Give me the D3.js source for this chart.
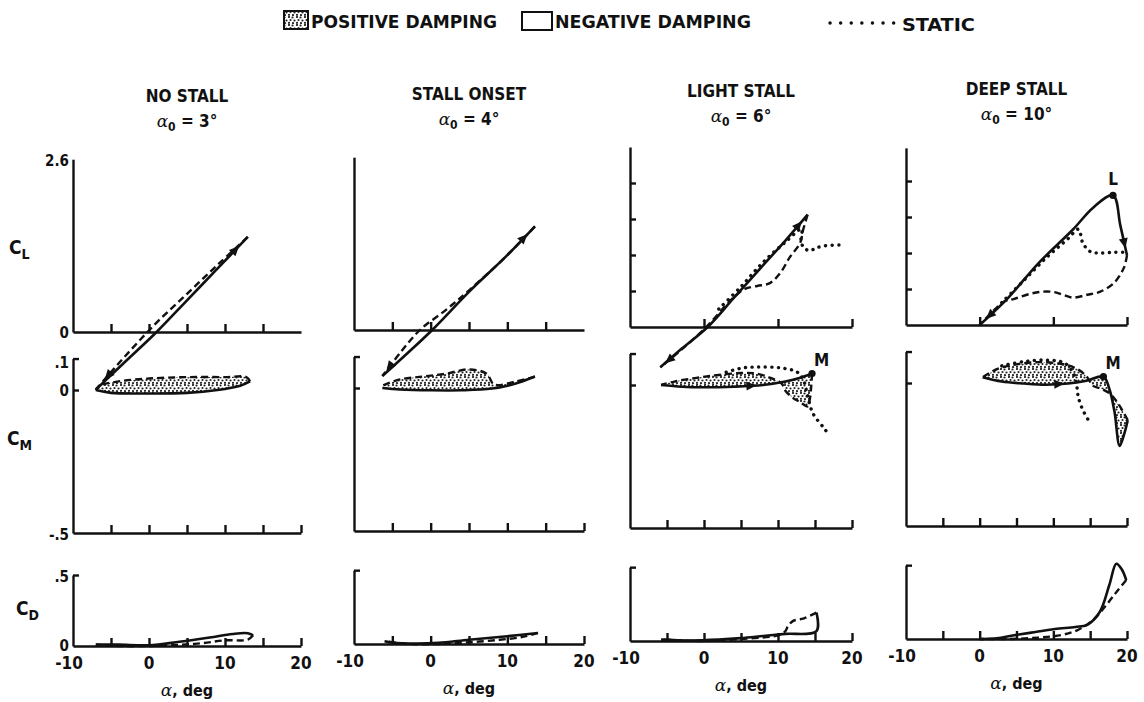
<!DOCTYPE html>
<html>
<head>
<meta charset="utf-8">
<script src="https://cdnjs.cloudflare.com/ajax/libs/d3/7.8.5/d3.min.js"></script>
<style>
	body { margin: 0; background: #fff; }
	svg text { font-family: "Liberation Sans Narrow", "DejaVu Sans Condensed", "Liberation Sans", sans-serif; font-weight: bold; fill: #111; }
	.greek { font-family: "DejaVu Serif", "Liberation Serif", serif; font-style: italic; font-weight: normal; }
</style>
</head>
<body>
<svg id="chart" width="1144" height="702"></svg>
<script>
// --- data (alpha in deg, coefficient value) ---
var columnTitles = ["NO STALL", "STALL ONSET", "LIGHT STALL", "DEEP STALL"];
var meanAngles = [3, 4, 6, 10];
var alphaTickLabels = [-10, 0, 10, 20];
var clTopLabel = "2.6";

// lift, upstroke (solid) and downstroke (dashed)
var clUp = [
	[[-7,-0.8],[-3,-0.4],[1,0],[5,0.44],[9,0.88],[13,1.32]],
	[[-6.3,-0.64],[-3,-0.32],[0.2,0],[5,0.53],[10,1.04],[13.6,1.44]],
	[[-5.9,-0.56],[-3,-0.3],[0.5,0],[4,0.4],[8,0.86],[11,1.2],[14,1.56]],
	[[0,0],[3.7,0.36],[8,0.86],[12.7,1.33],[15.4,1.63],[18.1,1.8],[19.1,1.38],[20,0.97]]
];
var clDown = [
	[[13,1.32],[9,0.93],[5,0.53],[1,0.13],[-3,-0.32],[-7,-0.8]],
	[[13.6,1.44],[10,1.04],[5,0.55],[2,0.28],[-1.4,0],[-4,-0.32],[-6.3,-0.64]],
	[[14,1.56],[13.4,1.35],[13,1.17],[11.6,0.97],[10.3,0.75],[8.9,0.61],[7.2,0.57],[5.8,0.54],[4.9,0.49],[3.5,0.36],[0.3,0],[-3,-0.31],[-5.9,-0.56]],
	[[20,0.97],[19.6,0.8],[18.2,0.58],[16.3,0.46],[14.6,0.42],[12.7,0.38],[11.3,0.42],[9.9,0.46],[8.2,0.46],[6.4,0.42],[4.6,0.36],[3.4,0.33],[0,0]]
];
var clStatic = [
	[],
	[],
	[[2,0.25],[5,0.56],[8,0.9],[11,1.18],[13.2,1.36],[13.1,1.2],[13.5,1.1],[14.3,1.06],[15.2,1.1],[16.5,1.13],[18.6,1.14]],
	[[3,0.31],[6,0.62],[9,0.93],[12,1.2],[13.4,1.33],[14,1.14],[15,1.02],[16.3,1],[18.1,1.01],[19.6,1.01]]
];

// pitching moment
var cmUp = [
	[[-7,0],[-5,-0.01],[0,-0.012],[5,-0.01],[9,0],[12,0.015],[13.3,0.03]],
	[[-6.3,0],[-4,-0.005],[0,-0.008],[4,-0.008],[8,-0.002],[11,0.015],[13.6,0.04]],
	[[-5.8,0],[-3,-0.006],[0,-0.008],[4,-0.006],[8,0],[11,0.012],[13,0.025],[14.6,0.04]],
	[[0.4,0.02],[3,0.005],[6,-0.002],[9,-0.006],[12,-0.002],[14.5,0.008],[16.8,0.022],[17.6,-0.02],[18.3,-0.1],[19,-0.22],[19.6,-0.18],[20.1,-0.13]]
];
var cmDown = [
	[[13.3,0.03],[12.8,0.045],[10,0.045],[5,0.045],[0,0.04],[-4,0.03],[-6.5,0.015],[-7,0]],
	[[13.6,0.04],[11,0.022],[8.3,0.012],[7.3,0.05],[5,0.065],[2,0.05],[-1,0.04],[-4,0.03],[-6.3,0.008]],
	[[14.6,0.04],[14.5,0],[14.3,-0.05],[14,-0.075],[13,-0.06],[12,-0.045],[11,-0.02],[10.5,0.005],[9,0.025],[7,0.04],[5,0.042],[2,0.035],[-1,0.025],[-4,0.012],[-5.8,0]],
	[[20.1,-0.13],[19,-0.08],[17.8,-0.04],[16.5,-0.02],[15.4,-0.01],[14.6,0.02],[13.5,0.045],[11.8,0.063],[8.2,0.073],[5,0.065],[2.5,0.05],[0.4,0.02]]
];
var cmStatic = [
	[],
	[],
	[[3,0.045],[5.3,0.06],[7.6,0.063],[10.3,0.06],[12.6,0.045],[13.4,0.02],[13.9,-0.028],[14.7,-0.098],[16.1,-0.147],[16.6,-0.164]],
	[[3,0.06],[6,0.075],[9,0.08],[11.5,0.07],[12.8,0.03],[13.2,-0.014],[13.4,-0.05],[14,-0.094],[15,-0.14]]
];

// drag
var cdUp = [
	[[-7,0.01],[-4,0.01],[0,0.005],[4,0.03],[8,0.06],[11,0.085],[13,0.09],[13.7,0.075]],
	[[-6,0.02],[-5,0.01],[-2,0.003],[1,0.008],[5,0.03],[10,0.055],[14,0.078]],
	[[-5.8,0.01],[-2,0.004],[2,0.01],[5,0.02],[8,0.035],[11,0.05],[15.2,0.07],[15.2,0.2]],
	[[0,0],[2,0.003],[4.5,0.025],[7,0.045],[10.2,0.07],[13,0.085],[14.6,0.1],[16.3,0.19],[17.6,0.38],[18.55,0.53],[19.3,0.49],[19.9,0.415]]
];
var cdDown = [
	[[13.7,0.075],[13,0.045],[10,0.04],[7,0.02],[4,0.008],[0,0],[-4,0],[-7,0.01]],
	[[14,0.078],[12,0.05],[9,0.03],[5,0.012],[1,0],[-3,0],[-6,0.02]],
	[[15.2,0.2],[13.5,0.16],[12,0.14],[11.3,0.1],[11,0.07],[10,0.04],[5,0.015],[0,0],[-5.8,0.01]],
	[[19.9,0.415],[18.55,0.33],[17.2,0.24],[15.4,0.134],[13.3,0.063],[11.1,0.028],[8,0.01],[4,0],[0,0]]
];

// stall points marked on the curves
var stallMarks = [
	{col: 3, row: "cl", name: "L", pt: [18.1, 1.8]},
	{col: 2, row: "cm", name: "M", pt: [14.6, 0.04]},
	{col: 3, row: "cm", name: "M", pt: [16.8, 0.022]}
];

// --- layout ---
var svg = d3.select("#chart");
var colLeft = [73, 354, 630, 906],
		colRight = [301, 584, 852, 1127],
		colShift = [0, -2, -5, -7];
var clTop = [2.4, 2.4, 2.5, 2.46],
		cdTop = [0.5, 0.52, 0.52, 0.52];

var lineGen = d3.line().curve(d3.curveCatmullRom.alpha(0.5));

var defs = svg.append("defs");
var pat = defs.append("pattern")
		.attr("id", "stipple")
		.attr("patternUnits", "userSpaceOnUse")
		.attr("width", 8)
		.attr("height", 8);
pat.append("rect").attr("width", 8).attr("height", 8).attr("fill", "#fff");
[[1,1],[4.5,1.5],[2.5,4],[6.5,4.5],[1,6.8],[5,7]].forEach(function(p) {
	pat.append("circle").attr("cx", p[0]).attr("cy", p[1]).attr("r", 1.1).attr("fill", "#222");
});

function path(pts, xs, ys) {
	return lineGen(pts.map(function(d) { return [xs(d[0]), ys(d[1])]; }));
}

function drawCurves(g, xs, ys, up, down, stat, fill) {
	if(fill) {
		g.append("path")
			.attr("d", path(up.concat(down), xs, ys) + "Z")
			.attr("fill", "url(#stipple)")
			.attr("stroke", "none");
	}
	if(stat.length) {
		g.append("path")
			.attr("d", path(stat, xs, ys))
			.attr("fill", "none")
			.attr("stroke", "#111")
			.attr("stroke-width", 3.4)
			.attr("stroke-linecap", "round")
			.attr("stroke-dasharray", "0.1,6.5");
	}
	g.append("path")
		.attr("d", path(down, xs, ys))
		.attr("fill", "none")
		.attr("stroke", "#111")
		.attr("stroke-width", 2.4)
		.attr("stroke-dasharray", "7,4");
	g.append("path")
		.attr("d", path(up, xs, ys))
		.attr("fill", "none")
		.attr("stroke", "#111")
		.attr("stroke-width", 2.6);
}

function arrowAt(g, pts, seg, xs, ys) {
	var a = pts[seg], b = pts[seg + 1];
	var x0 = xs(a[0]), y0 = ys(a[1]), x1 = xs(b[0]), y1 = ys(b[1]);
	var px = x0 + (x1 - x0) * 0.6, py = y0 + (y1 - y0) * 0.6;
	var ang = Math.atan2(y1 - y0, x1 - x0) * 180 / Math.PI;
	g.append("path")
		.attr("d", "M5,0L-5,-4.5L-5,4.5Z")
		.attr("fill", "#111")
		.attr("transform", "translate(" + px + "," + py + ") rotate(" + ang + ")");
}

function styleAxis(sel) {
	sel.selectAll("path, line").attr("stroke", "#111").attr("stroke-width", 2.4);
	sel.selectAll("text").remove();
}

function buildColumn(c) {
	var dy = colShift[c];
	var x = d3.scaleLinear().domain([-10, 20]).range([colLeft[c], colRight[c]]);
	var yCL = d3.scaleLinear().domain([0, 1]).range([332 + dy, 332 + dy - 72]);
	var yCM = d3.scaleLinear().domain([0, -0.5]).range([390 + dy, 533 + dy]);
	var yCD = d3.scaleLinear().domain([0, 0.5]).range([646 + dy, 575 + dy]);
	var g = svg.append("g").attr("class", "col col-" + c);

	// CL axes
	var xTicksCL = c < 2 ? [-5, 0, 5, 10, 15] : [0, 10, 20];
	g.append("g")
		.attr("transform", "translate(0," + yCL(0) + ")")
		.call(d3.axisBottom(x).tickValues(xTicksCL).tickSize(-8).tickSizeOuter(0))
		.call(styleAxis);
	var yAxCL = yCL.copy().domain([0, clTop[c]]).range([yCL(0), yCL(clTop[c])]);
	g.append("g")
		.attr("transform", "translate(" + x(-10) + ",0)")
		.call(d3.axisLeft(yAxCL).tickValues(c < 2 ? [] : [0.5, 1, 1.5, 2]).tickSize(-6).tickSizeOuter(0))
		.call(styleAxis);

	// CM axes
	g.append("g")
		.attr("transform", "translate(0," + yCM(-0.5) + ")")
		.call(d3.axisBottom(x).tickValues([-5, 0, 5, 10, 15, 20]).tickSize(-8).tickSizeOuter(0))
		.call(styleAxis);
	var yAxCM = yCM.copy().domain([-0.5, 0.11]).range([yCM(-0.5), yCM(0.11)]);
	g.append("g")
		.attr("transform", "translate(" + x(-10) + ",0)")
		.call(d3.axisLeft(yAxCM).tickValues([0, 0.11]).tickSize(-6).tickSizeOuter(0))
		.call(styleAxis);

	// CD axes
	g.append("g")
		.attr("transform", "translate(0," + yCD(0) + ")")
		.call(d3.axisBottom(x).tickValues([-5, 0, 5, 10, 15, 20]).tickSize(-8).tickSizeOuter(0))
		.call(styleAxis);
	var yAxCD = yCD.copy().domain([0, cdTop[c]]).range([yCD(0), yCD(cdTop[c])]);
	g.append("g")
		.attr("transform", "translate(" + x(-10) + ",0)")
		.call(d3.axisLeft(yAxCD).tickValues([cdTop[c]]).tickSize(-6).tickSizeOuter(0))
		.call(styleAxis);

	// curves
	drawCurves(g, x, yCM, cmUp[c], cmDown[c], cmStatic[c], true);
	drawCurves(g, x, yCD, cdUp[c], cdDown[c], [], false);
	drawCurves(g, x, yCL, clUp[c], clDown[c], clStatic[c], false);

	// direction arrows
	arrowAt(g, clUp[c], clUp[c].length - 2, x, yCL);
	arrowAt(g, clDown[c], clDown[c].length - 2, x, yCL);
	if(c >= 2) arrowAt(g, cmUp[c], 3, x, yCM);

	stallMarks.filter(function(m) { return m.col === c; }).forEach(function(m) {
		var ys = m.row === "cl" ? yCL : yCM;
		g.append("circle")
			.attr("cx", x(m.pt[0]))
			.attr("cy", ys(m.pt[1]))
			.attr("r", 3.6)
			.attr("fill", "#111");
		g.append("text")
			.attr("x", x(m.pt[0]) + (m.row === "cl" ? 0 : 2))
			.attr("y", ys(m.pt[1]) - (m.row === "cl" ? 10 : 8))
			.attr("text-anchor", m.row === "cl" ? "middle" : "start")
			.attr("font-size", 17)
			.text(m.name);
	});

	// titles
	var cx = (colLeft[c] + colRight[c]) / 2;
	g.append("text")
		.attr("x", cx)
		.attr("y", 102 + dy)
		.attr("text-anchor", "middle")
		.attr("font-size", 17)
		.text(columnTitles[c]);
	var sub = g.append("text")
		.attr("x", cx)
		.attr("y", 127 + dy)
		.attr("text-anchor", "middle")
		.attr("font-size", 17);
	sub.append("tspan").attr("class", "greek").text("α");
	sub.append("tspan").attr("dy", 4).attr("font-size", 12).text("0");
	sub.append("tspan").attr("dy", -4).text(" = " + meanAngles[c] + "°");

	// bottom tick labels
	alphaTickLabels.forEach(function(v) {
		g.append("text")
			.attr("x", x(v) - (v < 0 ? 4 : 0))
			.attr("y", 669 + dy)
			.attr("text-anchor", "middle")
			.attr("font-size", 17)
			.text(v);
	});
	var xl = g.append("text")
		.attr("x", x(5))
		.attr("y", 696 + dy)
		.attr("text-anchor", "middle")
		.attr("font-size", 16);
	xl.append("tspan").attr("class", "greek").attr("font-size", 17).text("α");
	xl.append("tspan").text(", deg");
}

[0, 1, 2, 3].forEach(buildColumn);

// row labels and first-column tick labels
function coef(xp, yp, sub) {
	var t = svg.append("text").attr("x", xp).attr("y", yp).attr("font-size", 19);
	t.append("tspan").text("C");
	t.append("tspan").attr("dy", 5).attr("font-size", 14).text(sub);
}
coef(9, 254, "L");
coef(7, 445, "M");
coef(16, 615, "D");

var leftLabels = [
	{t: clTopLabel, y: 166},
	{t: "0", y: 338},
	{t: ".1", y: 368},
	{t: "0", y: 396},
	{t: "-.5", y: 540},
	{t: ".5", y: 582},
	{t: "0", y: 651}
];
leftLabels.forEach(function(l) {
	svg.append("text")
		.attr("x", 69)
		.attr("y", l.y)
		.attr("text-anchor", "end")
		.attr("font-size", 15)
		.text(l.t);
});

// legend
var lg = svg.append("g").attr("class", "legend");
lg.append("rect").attr("x", 284).attr("y", 11).attr("width", 24).attr("height", 18)
	.attr("fill", "url(#stipple)").attr("stroke", "#111").attr("stroke-width", 2);
lg.append("text").attr("x", 311).attr("y", 28).attr("font-size", 17)
	.attr("textLength", 186).attr("lengthAdjust", "spacingAndGlyphs").text("POSITIVE DAMPING");
lg.append("rect").attr("x", 522).attr("y", 12).attr("width", 30).attr("height", 18)
	.attr("fill", "none").attr("stroke", "#111").attr("stroke-width", 2);
lg.append("text").attr("x", 555).attr("y", 28).attr("font-size", 17)
	.attr("textLength", 196).attr("lengthAdjust", "spacingAndGlyphs").text("NEGATIVE DAMPING");
lg.append("line").attr("x1", 830).attr("x2", 896).attr("y1", 23).attr("y2", 23)
	.attr("stroke", "#111").attr("stroke-width", 3.4).attr("stroke-linecap", "round")
	.attr("stroke-dasharray", "0.1,10.5");
lg.append("text").attr("x", 902).attr("y", 31).attr("font-size", 18)
	.attr("textLength", 73).attr("lengthAdjust", "spacingAndGlyphs").text("STATIC");
</script>
</body>
</html>
